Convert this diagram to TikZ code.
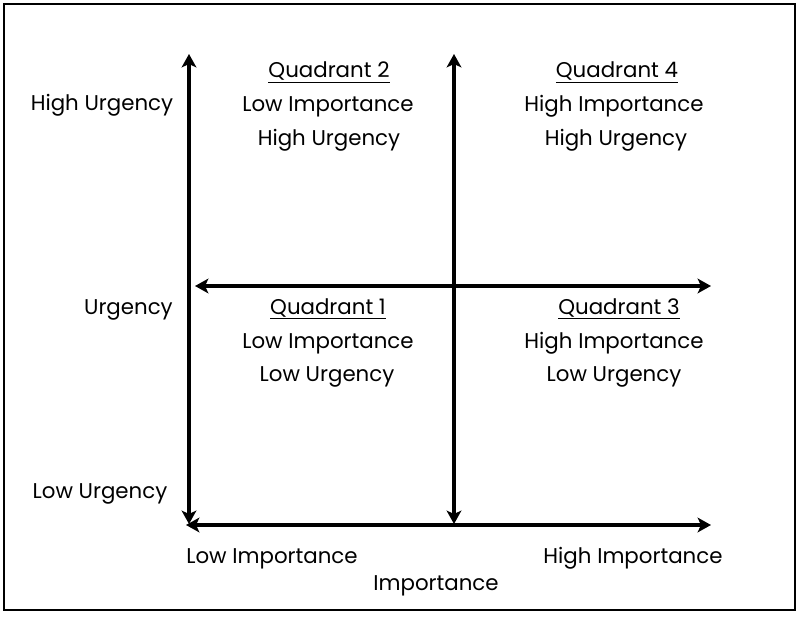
\documentclass[tikz,border=0pt]{standalone}
\usepackage{fontspec}
\setmainfont{Poppins}
\usetikzlibrary{arrows.meta}
\begin{document}
\begin{tikzpicture}[x=0.75pt,y=-0.75pt,
  axis/.style={line width=2.4pt,{Stealth[length=10pt,width=11pt,inset=2.5pt]}-{Stealth[length=10pt,width=11pt,inset=2.5pt]}},
  lbl/.style={font=\fontsize{16pt}{19pt}\selectfont,inner sep=0pt,anchor=base}]
\useasboundingbox (0,0) rectangle (800,617);
\draw[line width=1.6pt] (4,4) rectangle (795,610);
% axis end coordinates
\coordinate (lvT) at (189,54);
\coordinate (lvB) at (189,524);
\coordinate (mvT) at (454,54);
\coordinate (mvB) at (454,524);
\coordinate (mhL) at (195,286);
\coordinate (mhR) at (711,286);
\coordinate (bhL) at (186,525);
\coordinate (bhR) at (711,525);
\draw[axis] (lvB) -- (lvT);
\draw[axis] (mvB) -- (mvT);
\draw[axis] (mhL) -- (mhR);
\draw[axis] (bhL) -- (bhR);
% axis labels
\node[lbl] (hu) at (102,111) {High Urgency};
\node[lbl,anchor=base east] (u) at (173,314) {Urgency};
\node[lbl] (lu) at (100,498) {Low Urgency};
\node[lbl] (li) at (272,563) {Low Importance};
\node[lbl] (im) at (436,590) {Importance};
\node[lbl] (hi) at (633,563) {High Importance};
% quadrant 2
\node[lbl] (q2a) at (329,78) {\underline{Quadrant 2}};
\node[lbl] (q2b) at (328,112) {Low Importance};
\node[lbl] (q2c) at (329,145) {High Urgency};
% quadrant 4
\node[lbl] (q4a) at (617,78) {\underline{Quadrant 4}};
\node[lbl] (q4b) at (614,112) {High Importance};
\node[lbl] (q4c) at (616,145) {High Urgency};
% quadrant 1
\node[lbl] (q1a) at (328,314) {\underline{Quadrant 1}};
\node[lbl] (q1b) at (328,348) {Low Importance};
\node[lbl] (q1c) at (327,381) {Low Urgency};
% quadrant 3
\node[lbl] (q3a) at (619,314) {\underline{Quadrant 3}};
\node[lbl] (q3b) at (614,348) {High Importance};
\node[lbl] (q3c) at (614,381) {Low Urgency};
\end{tikzpicture}
\end{document}
